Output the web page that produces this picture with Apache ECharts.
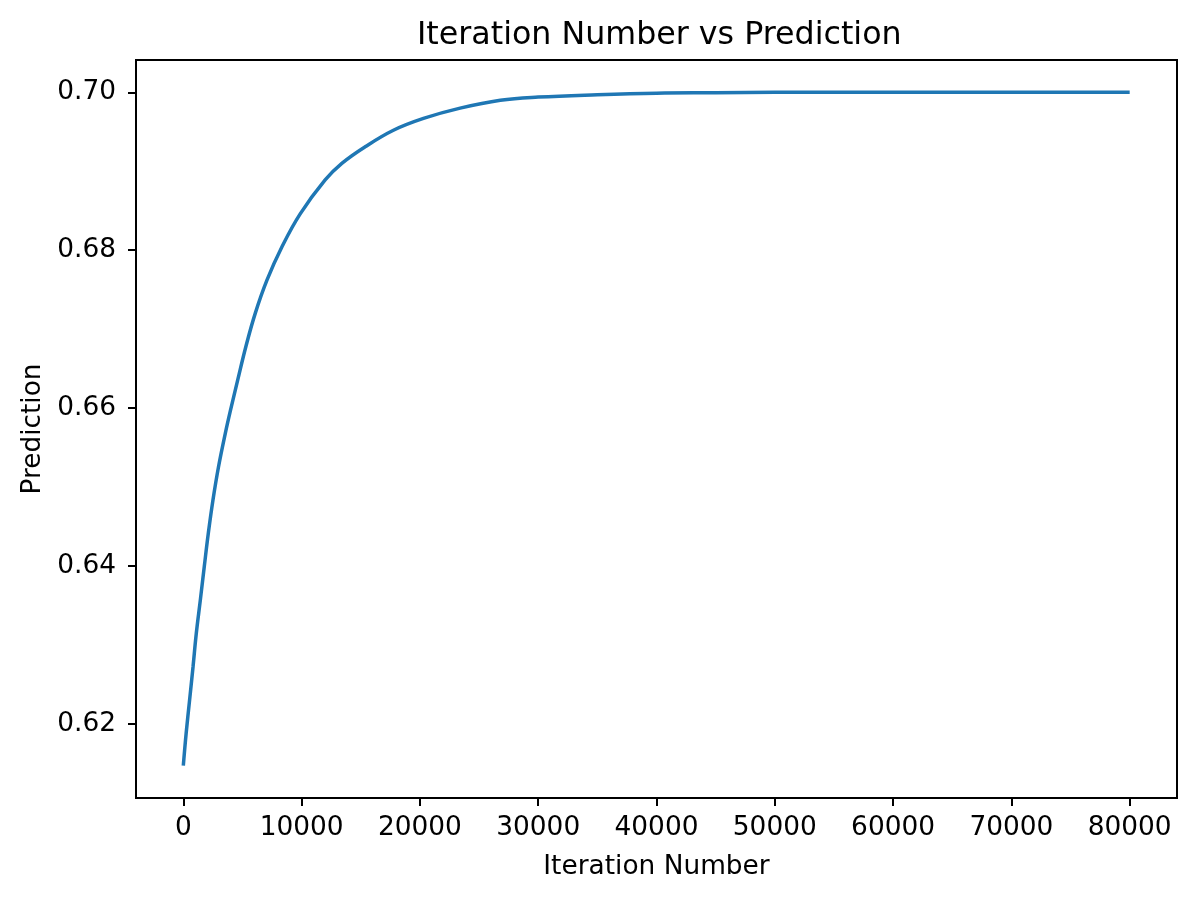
<!DOCTYPE html>
<html>
<head>
<meta charset="utf-8">
<title>Iteration Number vs Prediction</title>
<script src="https://cdn.jsdelivr.net/npm/echarts@6/dist/echarts.min.js"></script>
<style>
  html, body { margin: 0; padding: 0; background: #fff; }
  #main { width: 1196px; height: 901px; }
</style>
</head>
<body>
<div id="main"></div>
<script>
// values
var iterations = [0, 240, 530, 820, 1100, 1440, 1770, 2110, 2500, 2980, 3550, 4000, 4590, 5290, 6080, 7070, 8330, 9880, 11990, 13400, 15370, 17760, 20300, 23400, 26800, 30000, 35000, 40000, 45000, 50000, 60000, 70000, 80000];
var predictions = [0.6147, 0.6188, 0.6230, 0.6272, 0.6315, 0.6357, 0.6399, 0.6441, 0.6483, 0.6526, 0.6568, 0.6598, 0.6635, 0.6678, 0.6720, 0.6762, 0.6804, 0.6846, 0.6889, 0.6910, 0.6931, 0.6952, 0.6967, 0.6980, 0.6990, 0.6994, 0.6997, 0.6999, 0.69995, 0.7000, 0.7000, 0.7000, 0.7000];
var xTicks = [0, 10000, 20000, 30000, 40000, 50000, 60000, 70000, 80000];
var yTicks = [0.62, 0.64, 0.66, 0.68, 0.70];

var font = 'DejaVu Sans';
var myChart = echarts.init(document.getElementById('main'));

var option = {
    backgroundColor: '#fff',
    animation: false,
    title: {
        text: 'Iteration Number vs Prediction',
        left: 412,
        top: 15,
        textStyle: { fontFamily: font, fontSize: 31.7, fontWeight: 'normal', color: '#000' }
    },
    grid: {
        left: 136, right: 19, top: 60, bottom: 103,
        show: true, borderColor: '#000', borderWidth: 2, backgroundColor: 'transparent'
    },
    xAxis: {
        type: 'value',
        min: -4000,
        max: 84000,
        name: 'Iteration Number',
        nameLocation: 'middle',
        nameGap: 56,
        nameTextStyle: { fontFamily: font, fontSize: 26.4, color: '#000' },
        axisLine: { show: true, onZero: false, lineStyle: { color: '#000', width: 2 } },
        axisTick: { show: true, length: 8, lineStyle: { color: '#000', width: 2 }, customValues: xTicks },
        axisLabel: {
            fontFamily: font, fontSize: 26.4, color: '#000', margin: 17, customValues: xTicks,
            formatter: function (v) { return String(v); }
        },
        splitLine: { show: false }
    },
    yAxis: {
        type: 'value',
        min: 0.6106,
        max: 0.7041,
        name: 'Prediction',
        nameLocation: 'middle',
        nameGap: 89,
        nameTextStyle: { fontFamily: font, fontSize: 26.4, color: '#000' },
        axisLine: { show: true, onZero: false, lineStyle: { color: '#000', width: 2 } },
        axisTick: { show: true, length: 8, lineStyle: { color: '#000', width: 2 }, customValues: yTicks },
        axisLabel: {
            fontFamily: font, fontSize: 26.4, color: '#000', margin: 20, customValues: yTicks,
            formatter: function (v) { return v.toFixed(2); }
        },
        splitLine: { show: false }
    },
    series: [{
        name: 'Prediction',
        type: 'line',
        showSymbol: false,
        smooth: 0.4,
        lineStyle: { color: '#1f77b4', width: 3.5 },
        data: iterations.map(function (x, i) { return [x, predictions[i]]; })
    }]
};

myChart.setOption(option);
</script>
</body>
</html>
